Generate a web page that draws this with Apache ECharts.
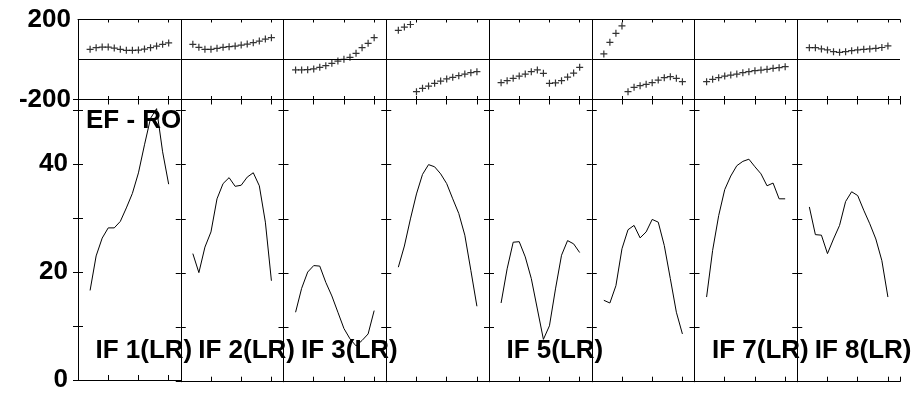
<!DOCTYPE html>
<html>
<head>
<meta charset="utf-8">
<script src="https://cdn.jsdelivr.net/npm/echarts@6/dist/echarts.min.js"></script>
<style>
html,body{margin:0;padding:0;background:#fff;}
#chart{width:911px;height:393px;}
</style>
</head>
<body>
<div id="chart"></div>
<script>
// ---- data ----
const channels = [4, 6, 8, 10, 12, 14, 16, 18, 20, 22, 24, 26, 28, 30];

const ampIF1 = [16.6, 23.0, 26.3, 28.2, 28.2, 29.4, 31.9, 34.6, 38.4, 43.6, 48.5, 50.3, 42.3, 36.3];
const ampIF2 = [23.6, 20.1, 24.8, 27.6, 33.7, 36.5, 37.6, 36.0, 36.2, 37.7, 38.5, 36.1, 29.4, 18.6];
const ampIF3 = [12.8, 17.2, 20.2, 21.4, 21.3, 18.3, 15.8, 12.8, 9.8, 7.9, 6.6, 7.6, 8.8, 13.1];
const ampIF4 = [21.1, 25.0, 30.0, 34.6, 38.2, 40.0, 39.6, 38.3, 36.5, 33.7, 31.0, 27.0, 20.5, 13.9];
const ampIF5 = [14.5, 20.8, 25.7, 25.8, 23.0, 19.0, 13.4, 7.8, 10.3, 17.1, 23.3, 26.0, 25.4, 23.8];
const ampIF6 = [15.0, 14.5, 17.7, 24.5, 28.0, 28.8, 26.5, 27.6, 29.9, 29.4, 25.1, 19.0, 12.8, 8.8];
const ampIF7 = [15.6, 24.2, 30.6, 35.4, 37.9, 39.8, 40.6, 41.0, 39.6, 38.3, 36.1, 36.6, 33.7, 33.7];
const ampIF8 = [32.2, 27.1, 27.0, 23.6, 26.3, 28.8, 33.2, 35.0, 34.3, 31.6, 29.1, 26.3, 22.3, 15.6];

const phaseIF1 = [51, 59, 62, 62, 57, 51, 46, 46, 47, 52, 59, 67, 76, 83];
const phaseIF2 = [76, 61, 51, 51, 56, 61, 64, 67, 72, 77, 84, 92, 102, 109];
const phaseIF3 = [-52, -52, -51, -47, -39, -31, -19, -8, 1, 11, 31, 59, 81, 109];
const phaseIF4 = [146, 162, 175, -161, -144, -133, -119, -108, -97, -89, -81, -73, -66, -61];
const phaseIF5 = [-116, -106, -94, -83, -73, -61, -52, -69, -119, -117, -106, -88, -68, -39];
const phaseIF6 = [28, 86, 131, 168, -161, -139, -131, -124, -116, -103, -91, -86, -94, -111];
const phaseIF7 = [-111, -99, -91, -83, -78, -73, -66, -61, -56, -53, -49, -44, -41, -36];
const phaseIF8 = [59, 59, 53, 48, 39, 36, 39, 44, 48, 51, 53, 56, 60, 68];

const panelLabels = ['IF 1(LR)', 'IF 2(LR)', 'IF 3(LR)', '', 'IF 5(LR)', '', 'IF 7(LR)', 'IF 8(LR)'];
const plotTitle = 'EF - RO';
const ampTickLabels = [0, 20, 40];
const phaseTickLabels = [-200, 200];

const ampSeries = [ampIF1, ampIF2, ampIF3, ampIF4, ampIF5, ampIF6, ampIF7, ampIF8];
const phaseSeries = [phaseIF1, phaseIF2, phaseIF3, phaseIF4, phaseIF5, phaseIF6, phaseIF7, phaseIF8];

// ---- layout ----
const LEFT = 78, PW = 102.75;
const TOP1 = 19.5, H1 = 80;
const TOP2 = 99.5, H2 = 282.2;
const FONT = '"Liberation Sans", Arial, sans-serif';
const BLACK = '#000';

const grids = [], xAxes = [], yAxes = [], series = [], graphics = [];

function xAx(gi, pos, tickLen) {
  return {
    type: 'value', gridIndex: gi, position: pos, min: 0, max: 34, interval: 10,
    axisLine: {show: true, onZero: false, lineStyle: {color: BLACK, width: 1}},
    axisTick: {show: true, inside: true, length: tickLen, lineStyle: {color: BLACK, width: 1}},
    axisLabel: {show: false}, splitLine: {show: false}
  };
}

function labelStyle(list) {
  return {
    color: BLACK, fontSize: 26, fontWeight: 'bold', fontFamily: FONT,
    padding: [5, 0, 0, 0],
    formatter: v => list.indexOf(v) >= 0 ? String(v) : ''
  };
}

for (let k = 0; k < 8; k++) {
  const left = LEFT + k * PW;
  const gTop = grids.length;
  grids.push({left: left, top: TOP1, width: PW, height: H1, containLabel: false});
  const gBot = grids.length;
  grids.push({left: left, top: TOP2, width: PW, height: H2, containLabel: false});

  // phase grid axes
  const xiTop = xAxes.length;
  xAxes.push(xAx(gTop, 'bottom', 3.5));
  xAxes.push(xAx(gTop, 'top', 3));
  const yiTop = yAxes.length;
  yAxes.push({
    type: 'value', gridIndex: gTop, position: 'left', min: -200, max: 200, interval: 200,
    axisLine: {show: true, lineStyle: {color: BLACK, width: 1}},
    axisTick: {show: false},
    splitLine: {show: true, lineStyle: {color: BLACK, width: 1}},
    axisLabel: Object.assign({show: k === 0, margin: 7}, labelStyle(phaseTickLabels))
  });
  yAxes.push({
    type: 'value', gridIndex: gTop, position: 'right', min: -200, max: 200, interval: 200,
    axisLine: {show: true, lineStyle: {color: BLACK, width: 1}},
    axisTick: {show: false}, axisLabel: {show: false}, splitLine: {show: false}
  });

  // amplitude grid axes
  const xiBot = xAxes.length;
  xAxes.push(xAx(gBot, 'bottom', 5));
  xAxes.push(xAx(gBot, 'top', 5));
  const yiBot = yAxes.length;
  yAxes.push({
    type: 'value', gridIndex: gBot, position: 'left', min: 0, max: 52, interval: 10,
    axisLine: {show: true, lineStyle: {color: BLACK, width: 1}},
    axisTick: {show: true, inside: true, length: 5, lineStyle: {color: BLACK, width: 1}},
    splitLine: {show: false},
    axisLabel: Object.assign({show: k === 0, margin: 10}, labelStyle(ampTickLabels))
  });
  yAxes.push({
    type: 'value', gridIndex: gBot, position: 'right', min: 0, max: 52, interval: 10,
    axisLine: {show: true, lineStyle: {color: BLACK, width: 1}},
    axisTick: {show: true, inside: true, length: 5, lineStyle: {color: BLACK, width: 1}},
    axisLabel: {show: false}, splitLine: {show: false}
  });

  series.push({
    type: 'scatter', xAxisIndex: xiTop, yAxisIndex: yiTop,
    symbol: 'path://M2.9,0h1.2v2.9h2.9v1.2h-2.9v2.9h-1.2v-2.9h-2.9v-1.2h2.9z', symbolSize: 7,
    itemStyle: {color: BLACK},
    data: channels.map((c, i) => [c, phaseSeries[k][i]]),
    silent: true
  });
  series.push({
    type: 'line', xAxisIndex: xiBot, yAxisIndex: yiBot,
    symbol: 'none', lineStyle: {color: BLACK, width: 1},
    data: channels.map((c, i) => [c, ampSeries[k][i]]),
    silent: true
  });

  if (panelLabels[k]) {
    graphics.push({
      type: 'text', x: left + 17.5, y: 351, z: 100,
      style: {text: panelLabels[k], font: 'bold 26px ' + FONT, fill: BLACK, align: 'left', verticalAlign: 'middle'}
    });
  }
}

graphics.push({
  type: 'text', x: 86, y: 121, z: 100,
  style: {text: plotTitle, font: 'bold 26px ' + FONT, fill: BLACK, align: 'left', verticalAlign: 'middle'}
});

const chart = echarts.init(document.getElementById('chart'), null, {renderer: 'canvas'});
chart.setOption({
  animation: false,
  backgroundColor: '#fff',
  grid: grids,
  xAxis: xAxes,
  yAxis: yAxes,
  series: series,
  graphic: graphics
});
</script>
</body>
</html>
